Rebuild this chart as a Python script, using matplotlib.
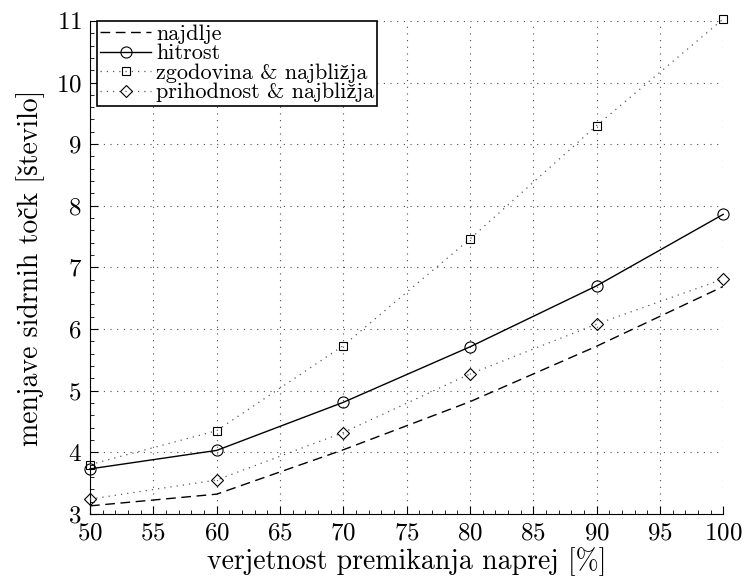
import matplotlib
matplotlib.use("Agg")
import matplotlib.pyplot as plt
from matplotlib.ticker import MultipleLocator

plt.rcParams['font.family'] = ['cmr10', 'Liberation Serif', 'DejaVu Serif']
plt.rcParams['mathtext.fontset'] = 'cm'
plt.rcParams['axes.formatter.use_mathtext'] = True

x = [50, 60, 70, 80, 90, 100]
najdlje = [3.13, 3.32, 4.04, 4.82, 5.72, 6.69]
hitrost = [3.73, 4.03, 4.81, 5.71, 6.70, 7.86]
zgodovina = [3.80, 4.35, 5.73, 7.46, 9.30, 11.03]
prihodnost = [3.24, 3.55, 4.32, 5.27, 6.08, 6.81]

labels = ["najdlje", "hitrost", "zgodovina & najbližja", "prihodnost & najbližja"]
xlabel = "verjetnost premikanja naprej [%]"
ylabel = "menjave sidrnih točk [število]"

fig = plt.figure(figsize=(7.44, 5.8), dpi=100)
ax = fig.add_axes([0.121, 0.114, 0.851, 0.850])

ax.plot(x, najdlje, color='black', lw=1.0, ls=(0, (7, 4)), label=labels[0])
ax.plot(x, hitrost, color='black', lw=1.0, ls='-', marker='o', ms=8, mfc='none',
        mec='black', mew=0.8, label=labels[1], clip_on=False, zorder=3)
ax.plot(x, zgodovina, color='0.35', lw=0.9, ls=(0, (1, 4)), marker='s', ms=6,
        mfc='none', mec='black', mew=0.8, label=labels[2], clip_on=False, zorder=3)
ax.plot(x, prihodnost, color='0.35', lw=0.9, ls=(0, (1, 4)), marker='D', ms=6.5,
        mfc='none', mec='black', mew=0.8, label=labels[3], clip_on=False, zorder=3)

ax.set_xlim(50, 100)
ax.set_ylim(3, 11)
ax.xaxis.set_major_locator(MultipleLocator(5))
ax.xaxis.set_minor_locator(MultipleLocator(1))
ax.yaxis.set_major_locator(MultipleLocator(1))
ax.yaxis.set_minor_locator(MultipleLocator(0.2))
ax.tick_params(which='major', direction='in', length=6, width=0.8, labelsize=18, pad=6)
ax.tick_params(which='minor', direction='in', length=3, width=0.6)
ax.spines['top'].set_visible(False)
ax.spines['right'].set_visible(False)
ax.grid(True, which='major', color='0.3', ls=(0, (1, 5)), lw=0.8)

ax.set_xlabel(xlabel, fontsize=20, labelpad=2)
ax.set_ylabel(ylabel, fontsize=20, labelpad=8)

leg = ax.legend(loc='upper left', bbox_to_anchor=(7 / 633, 1.0), fontsize=16,
                frameon=True, fancybox=False, edgecolor='black', framealpha=1,
                borderpad=0.15, labelspacing=0.0, handlelength=2.3,
                handletextpad=0.2, borderaxespad=0.0)
leg.get_frame().set_linewidth(1.2)

fig.savefig("out.png", dpi=100)
